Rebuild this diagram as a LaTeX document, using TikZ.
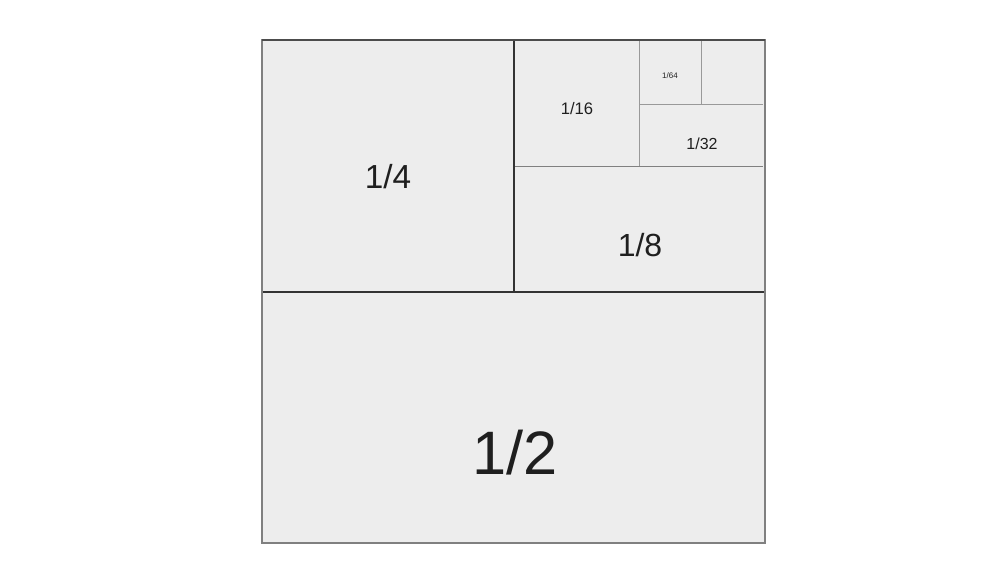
\documentclass[tikz,border=0pt]{standalone}
\usepackage{fontspec}
\setmainfont{Liberation Sans}
\begin{document}
\begin{tikzpicture}[x=0.75pt,y=-0.75pt,
  lbl/.style={inner sep=0pt,text=black!88},
  outer/.style={draw=black!50,line width=0.8pt},
  dark/.style={draw=black!80,line width=1.1pt},
  light/.style={draw=black!40,line width=0.7pt}]
\useasboundingbox (0,0) rectangle (1000,588);
\fill[white] (0,0) rectangle (1000,588);
\fill[black!7] (262,40) rectangle (765,543);
% inner light lines
\draw[light] (639,40) -- (639,166);
\draw[light] (639,104) -- (763,104);
\draw[light] (701,40) -- (701,104);
\draw[light,draw=black!50] (514,166) -- (763,166);
% dark lines
\draw[dark] (262,292) -- (765,292);
\draw[dark] (514,40) -- (514,292);
% outer
\draw[outer] (262,40) rectangle (765,543);
\draw[draw=black!70,line width=0.8pt] (262,40) -- (765,40);
% labels
\node[lbl,font=\fontsize{46}{50}\selectfont] (half) at (515,453) {1/2};
\node[lbl,font=\fontsize{25}{28}\selectfont] (quarter) at (388,177) {1/4};
\node[lbl,font=\fontsize{24}{27}\selectfont] (eighth) at (640,245) {1/8};
\node[lbl,font=\fontsize{12.5}{15}\selectfont] (sixteenth) at (577,109) {1/16};
\node[lbl,font=\fontsize{12}{14}\selectfont] (thirtysecond) at (702,144) {1/32};
\node[lbl,font=\fontsize{6}{8}\selectfont] (sixtyfourth) at (670,76) {1/64};
\end{tikzpicture}
\end{document}
